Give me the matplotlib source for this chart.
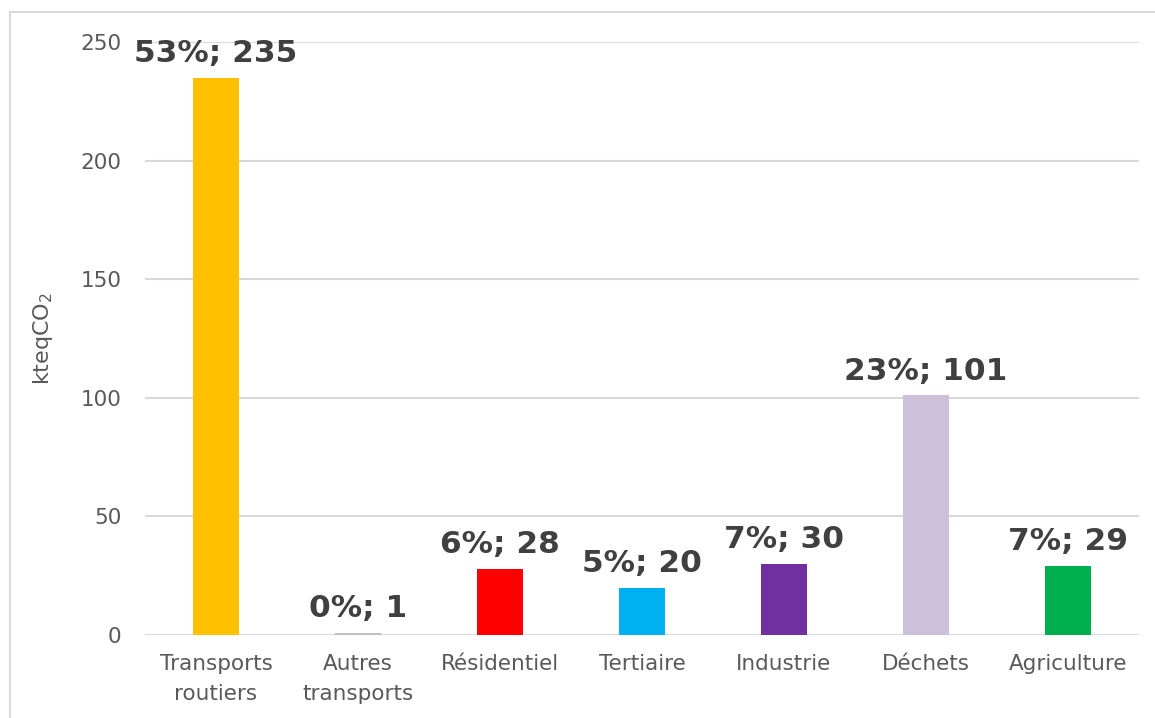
import matplotlib.pyplot as plt
from matplotlib.patches import Rectangle

categories = ["Transports\nroutiers", "Autres\ntransports", "Résidentiel", "Tertiaire",
              "Industrie", "Déchets", "Agriculture"]
values = [235, 1, 28, 20, 30, 101, 29]
shares = [53, 0, 6, 5, 7, 23, 7]
colors = ["#FFC000", "#BFBFBF", "#FF0000", "#00B0F0", "#7030A0", "#CCC0DA", "#00B050"]
yticks = [0, 50, 100, 150, 200, 250]

fig = plt.figure(figsize=(11.55, 7.18), dpi=100)
ax = fig.add_axes([0.1255, 0.1156, 0.8605, 0.826])

# chart area border (left and top edges are visible)
fig.patches.append(Rectangle((10 / 1155, -0.1), 1.2, 1 - 12 / 718 + 0.1,
                             transform=fig.transFigure, fill=False,
                             edgecolor="#D9D9D9", linewidth=1.5, zorder=0))

x = range(len(categories))
bars = ax.bar(x, values, width=0.32, color=colors, zorder=3)

for bar, v, s in zip(bars, values, shares):
    ax.annotate(f"{s}%; {v}", (bar.get_x() + bar.get_width() / 2, bar.get_height()),
                xytext=(0, 7), textcoords="offset points", ha="center", va="bottom",
                fontsize=22.5, fontweight="bold", color="#404040")

ax.set_xlim(-0.5, len(categories) - 0.5)
ax.set_ylim(0, 250)
ax.set_yticks(yticks)
ax.set_xticks(list(x))
ax.set_xticklabels(categories, linespacing=1.6)
ax.yaxis.grid(True, color="#D9D9D9", linewidth=1.5, zorder=0)
ax.set_axisbelow(True)
for sp in ax.spines.values():
    sp.set_visible(False)
ax.tick_params(axis="both", length=0, labelsize=15.5, labelcolor="#595959")
ax.tick_params(axis="y", pad=17)
ax.tick_params(axis="x", pad=14)
ax.set_ylabel("kteqCO$_2$", fontsize=16, color="#595959", labelpad=18)

fig.savefig("out.png", dpi=100)
